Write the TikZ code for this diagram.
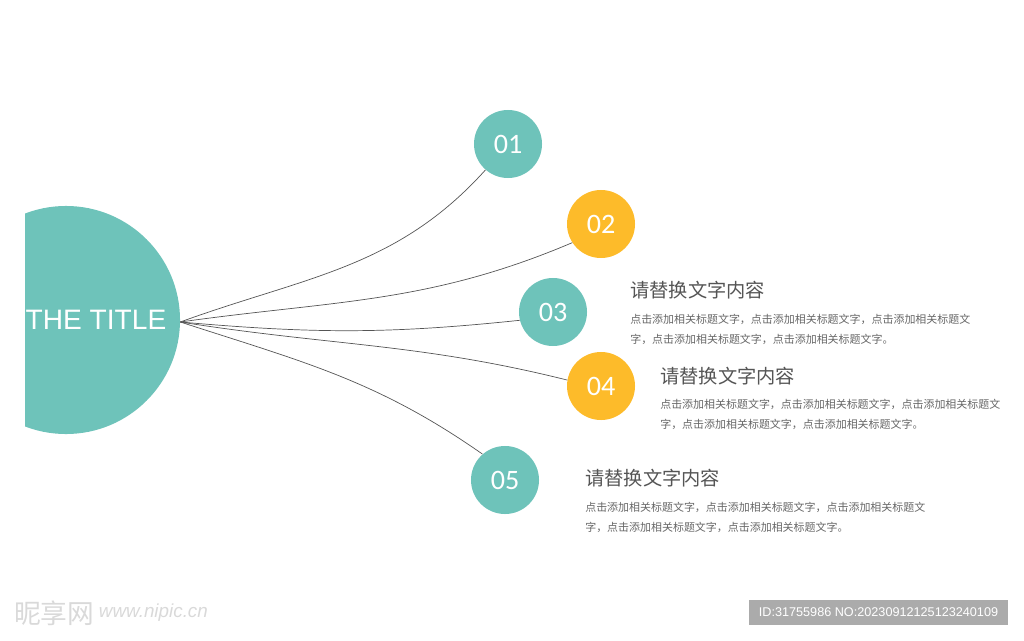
\documentclass[tikz,border=0pt]{standalone}
\usepackage{fontspec}
\setmainfont{Liberation Sans}
\newfontfamily\cjk{Noto Sans CJK SC}
\newfontfamily\numfont{Carlito}
\usetikzlibrary{positioning}

\definecolor{themeTeal}{HTML}{6EC3BA}
\definecolor{themeYellow}{HTML}{FDBB2A}
\definecolor{lineGray}{HTML}{555555}
\definecolor{headGray}{HTML}{555555}
\definecolor{bodyGray}{HTML}{666666}
\definecolor{stampGray}{HTML}{ABABAB}

\begin{document}
\begin{tikzpicture}[
    x=0.025cm, y=0.025cm,
    numcircle/.style={circle, minimum size=1.7cm, inner sep=0, text=white, font=\numfont\fontsize{20}{20}\selectfont},
    link/.style={draw=lineGray, line width=0.5pt},
    headtext/.style={font=\cjk\fontsize{13.7}{16}\selectfont, text=headGray, inner sep=0, anchor=west},
    bodytext/.style={font=\cjk\fontsize{7.8}{14.2}\selectfont, text=bodyGray, align=left, inner sep=0, anchor=west}
]
\useasboundingbox (0,0) rectangle (1024,640);

% Title half circle
\begin{scope}
\clip (25,0) rectangle (1024,640);
\node[circle, fill=themeTeal, minimum size=5.7cm, inner sep=0] (hub) at (66,320) {};
\node[text=white, font=\fontsize{20}{20}\selectfont] (title) at (96,320) {THE TITLE};
\end{scope}

% Numbered circles
\node[numcircle, fill=themeTeal] (n1) at (508,496) {01};
\node[numcircle, fill=themeYellow] (n2) at (601,416) {02};
\node[numcircle, fill=themeTeal] (n3) at (553,328) {03};
\node[numcircle, fill=themeYellow] (n4) at (601,254) {04};
\node[numcircle, fill=themeTeal] (n5) at (505,160) {05};

% Curves
\draw[link] (hub.-1.5) to[out=20, in=228] (n1.229);
\draw[link] (hub.-1.5) to[out=8, in=203] (n2.213);
\draw[link] (hub.-1.5) to[out=-5, in=186] (n3.194);
\draw[link] (hub.-1.5) to[out=-9, in=166] (n4.170);
\draw[link] (hub.-1.5) to[out=-18, in=145] (n5.131);

% Text blocks
\node[headtext] (h3) at (630,350) {请替换文字内容};
\node[bodytext] (b3) at (630,311) {点击添加相关标题文字，点击添加相关标题文字，点击添加相关标题文\\字，点击添加相关标题文字，点击添加相关标题文字。};
\node[headtext] (h4) at (660,264) {请替换文字内容};
\node[bodytext] (b4) at (660,226) {点击添加相关标题文字，点击添加相关标题文字，点击添加相关标题文\\字，点击添加相关标题文字，点击添加相关标题文字。};
\node[headtext] (h5) at (585,162) {请替换文字内容};
\node[bodytext] (b5) at (585,123) {点击添加相关标题文字，点击添加相关标题文字，点击添加相关标题文\\字，点击添加相关标题文字，点击添加相关标题文字。};

% Watermark
\node[text=gray!30, font=\cjk\fontsize{19}{19}\selectfont, anchor=west, inner sep=0] (site) at (14,27) {昵享网};
\node[text=gray!30, font=\itshape\fontsize{13.4}{13.4}\selectfont, right=0.1cm of site, inner sep=0] (url) {www.nipic.cn};
\node[fill=stampGray, text=white, minimum width=6.475cm, minimum height=0.625cm, inner sep=0, font=\fontsize{9}{9}\selectfont] (stamp) at (878.5,27.5) {ID:31755986 NO:20230912125123240109};
\end{tikzpicture}
\end{document}
